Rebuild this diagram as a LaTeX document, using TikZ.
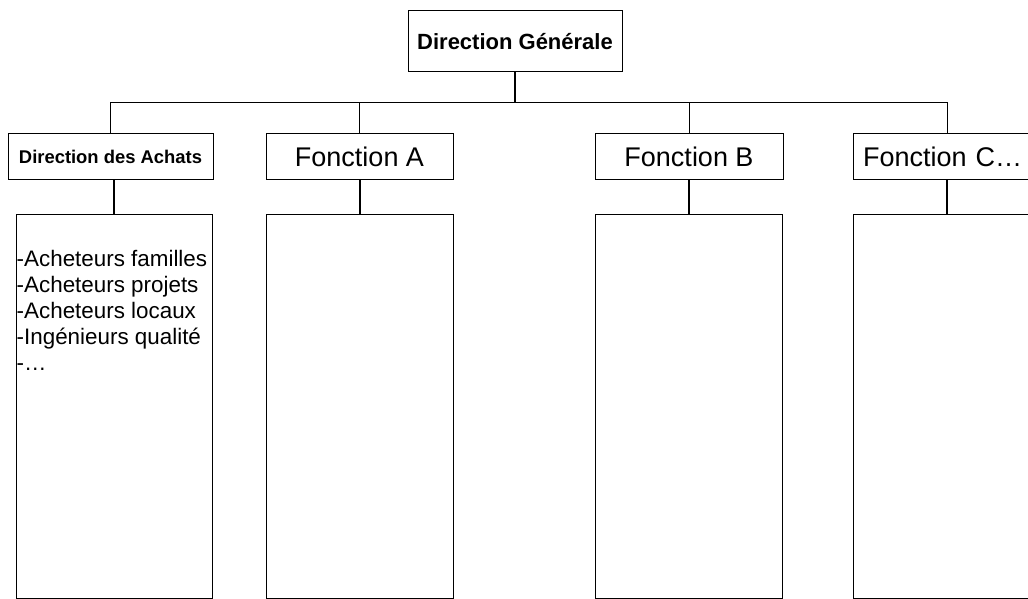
\documentclass[tikz,border=0pt]{standalone}
\usepackage{fontspec}
\setmainfont{Liberation Sans}
\begin{document}
\begin{tikzpicture}[x=1pt,y=-1pt,
  box/.style={draw=black,line width=1pt,rectangle,inner sep=0pt,fill=white},
  thin/.style={draw=black,line width=1pt},
  thick/.style={draw=black,line width=2pt}]
\useasboundingbox (0,0) rectangle (1028,599);
\clip (0,0) rectangle (1028,599);
% top
\node[box,minimum width=214pt,minimum height=61pt,font=\fontsize{22}{26}\selectfont\bfseries] (dg) at (515,41.5) {Direction Générale};
% level 2
\node[box,minimum width=205pt,minimum height=45pt,font=\fontsize{18.4}{22}\selectfont\bfseries] (da) at (110.5,156.5) {Direction des Achats};
\node[box,minimum width=187pt,minimum height=45pt,font=\fontsize{27}{32}\selectfont] (fa) at (359.5,156.5) {Fonction A};
\node[box,minimum width=188pt,minimum height=45pt,font=\fontsize{27}{32}\selectfont] (fb) at (689,156.5) {Fonction B};
\node[box,minimum width=188pt,minimum height=45pt,font=\fontsize{27}{32}\selectfont,text width=176pt,align=left] (fc) at (947,156.5) {\hspace*{4pt}Fonction C…};
% level 3
\node[box,minimum width=196pt,minimum height=384pt] (dal) at (114,406) {};
\node[box,minimum width=187pt,minimum height=384pt] (fal) at (359.5,406) {};
\node[box,minimum width=187pt,minimum height=384pt] (fbl) at (688.5,406) {};
\node[box,minimum width=188pt,minimum height=384pt] (fcl) at (947,406) {};
\node[anchor=north west,inner sep=0pt,align=left,font=\fontsize{22.4}{26}\selectfont] (list) at (16.5,250.5)
  {-Acheteurs familles\\-Acheteurs projets\\-Acheteurs locaux\\-Ingénieurs qualité\\-…};
% connectors
\coordinate (bus) at (515,103);
\draw[thick] (dg.south) -- (bus);
\draw[thin] (da.north) |- (bus);
\draw[thin] (fc.north) |- (bus);
\draw[thin] (fa.north) -- (fa.north |- bus);
\draw[thin] (fb.north) -- (fb.north |- bus);
\draw[thick] (da.south -| dal.north) -- (dal.north);
\draw[thick] (fa.south) -- (fal.north);
\draw[thick] (fb.south) -- (fb.south |- fbl.north);
\draw[thick] (fc.south) -- (fcl.north);
\end{tikzpicture}
\end{document}
